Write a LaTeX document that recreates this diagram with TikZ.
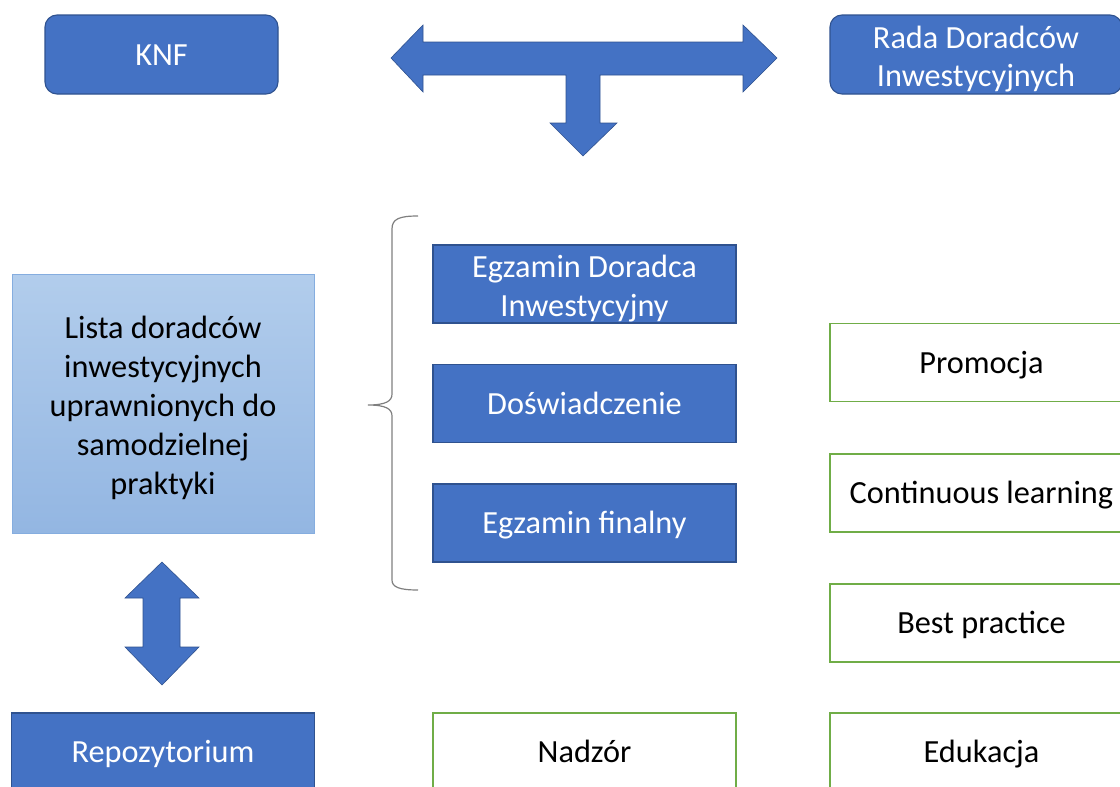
\documentclass[tikz,border=0pt]{standalone}
\usepackage{fontspec}
\setmainfont{Carlito}
\usetikzlibrary{positioning}

\definecolor{boxblue}{HTML}{4472C4}
\definecolor{edgeblue}{HTML}{2F528F}
\definecolor{boxgreen}{HTML}{70AD47}
\definecolor{listtop}{HTML}{B2CDEC}
\definecolor{listbot}{HTML}{93B6E2}
\definecolor{listedge}{HTML}{85ADDF}
\definecolor{bracegray}{HTML}{7F7F7F}

% #1 lines stacked, sized so the caps of the block sit centred in the box
\newcommand\boxlines[2]{\raisebox{0pt}[0pt][\dimexpr 39pt*\numexpr#1-1\relax+3pt\relax]{%
  \begin{tabular}[t]{@{}c@{}}#2\end{tabular}}}

\tikzset{every picture/.style={line width=0.75pt}}
\tikzset{
  boxtext/.style={font=\fontsize{32.3}{39}\selectfont, align=center, inner sep=0pt,
    execute at begin node={\rule{0pt}{29pt}}, execute at end node={\rule[-8pt]{0pt}{8pt}}},
  bluebox/.style={boxtext, draw=edgeblue, line width=1.1pt, fill=boxblue, text=white,
    minimum width=303, minimum height=78},
  greenbox/.style={boxtext, draw=boxgreen, line width=1.3pt, fill=white, text=black,
    minimum width=303, minimum height=78},
  listbox/.style={boxtext, draw=listedge, line width=0.8pt, top color=listtop, bottom color=listbot,
    text=black, minimum width=302, minimum height=259},
  bigarrow/.style={fill=boxblue, draw=edgeblue, line width=0.6pt},
}

\begin{document}
\begin{tikzpicture}[x=1pt,y=1pt,yscale=-1,xscale=1]
\useasboundingbox (0,0) rectangle (1120,787);
\clip (0,0) rectangle (1120,787);

%Shape: Rounded Rect
\node[bluebox, rounded corners=12, minimum width=233, minimum height=79] (knf) at (161.5,54.5) {KNF};
%Shape: Rounded Rect
\node[bluebox, rounded corners=12, minimum width=292, minimum height=79] (rada) at (976,54.5) {\boxlines{2}{Rada Doradców\\Inwestycyjnych}};

%Shape: T Arrow
\draw[bigarrow] (391,58) -- (423,25) -- (423,42) -- (743,42) -- (743,25) -- (777,58) -- (743,92) -- (743,75)
  -- (600,75) -- (600,123) -- (617,123) -- (583,156) -- (550,123) -- (566,123) -- (566,75)
  -- (423,75) -- (423,92) -- cycle;

%Shape: Rectangle
\node[listbox] (lista) at (163,403.5) {\boxlines{5}{Lista doradców\\inwestycyjnych\\uprawnionych do\\samodzielnej\\praktyki}};

%Shape: Brace
\draw[bracegray, line width=1.2pt] (418,216) .. controls (399,216) and (392,219) .. (392,229) -- (392,394)
  .. controls (392,401) and (386,405) .. (368,405) .. controls (386,405) and (392,409) .. (392,416)
  -- (392,580) .. controls (392,587) and (399,590) .. (418,590);

%Shape: Rectangle
\node[bluebox] (egzdi) at (584.5,284) {\boxlines{2}{Egzamin Doradca\\Inwestycyjny}};
\node[bluebox] (dosw) at (584.5,403.5) {Doświadczenie};
\node[bluebox] (egzfin) at (584.5,523) {Egzamin finalny};

%Shape: Rectangle
\node[greenbox] (promo) at (981.5,362.5) {Promocja};
\node[greenbox] (contl) at (981.5,493) {Continuous learning};
\node[greenbox] (bestp) at (981.5,623) {Best practice};

%Shape: Up Down Arrow
\draw[bigarrow] (162,562) -- (199,598) -- (180,598) -- (180,647) -- (199,647) -- (162,685) -- (125,647)
  -- (143,647) -- (143,598) -- (125,598) -- cycle;

%Shape: Rectangle
\node[bluebox] (repo) at (163,752) {Repozytorium};
\node[greenbox] (nadzor) at (584.5,752) {Nadzór};
\node[greenbox] (eduk) at (981.5,752) {Edukacja};

\end{tikzpicture}
\end{document}
